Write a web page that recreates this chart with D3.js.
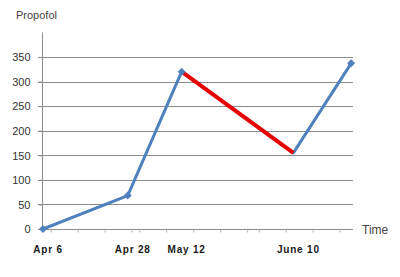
<!DOCTYPE html>
<html><head><meta charset="utf-8">
<script src="https://cdn.jsdelivr.net/npm/d3@7"></script>
<style>body{margin:0;background:#fff}svg{display:block}</style>
</head><body>
<svg id="c" width="400" height="277"></svg>
<script>
const dates = ["2009-04-06","2009-04-28","2009-05-12","2009-06-10","2009-06-25"];
const values = [0, 68, 320, 155, 337];
const highlight = [2, 3]; // segment drawn in red (index range)
const labelDates = ["2009-04-06","2009-04-28","2009-05-12","2009-06-10"];
const labelTexts = ["Apr 6","Apr 28","May 12","June 10"];
const yTicks = [0,50,100,150,200,250,300,350];
const yTitle = "Propofol";
const xTitle = "Time";

const parse = d3.utcParse("%Y-%m-%d");
const pts = dates.map((d,i)=>({x:parse(d), y:values[i]}));

const svg = d3.select("#c");
const x = d3.scaleUtc().domain([parse("2009-04-06"), parse("2009-06-26")]).range([43, 355]);
const y = d3.scaleLinear().domain([0, 400]).range([229, 32.4]);

// gridlines
svg.append("g").selectAll("line").data(yTicks.filter(t=>t>0)).join("line")
  .attr("x1", 38).attr("x2", 353)
  .attr("y1", d=>Math.round(y(d))+0.5).attr("y2", d=>Math.round(y(d))+0.5)
  .attr("stroke", "#8c8c8c").attr("stroke-width", 1);

// y axis
const yAxis = d3.axisLeft(y).tickValues(yTicks).tickSize(4).tickPadding(8);
const gy = svg.append("g").attr("transform","translate(42.5,0)").call(yAxis);
gy.select(".domain").attr("stroke","#8c8c8c").attr("d","M0,32.4V229");
gy.selectAll(".tick line").attr("stroke","#8c8c8c");
gy.selectAll(".tick text").attr("font-family","Liberation Sans, Arial, sans-serif")
  .attr("font-size","11px").attr("fill","#333").attr("dy","0.35em");

// x axis
const weekTicks = d3.utcDay.every(7).range(parse("2009-04-06"), parse("2009-06-26"));
const xAxis = d3.axisBottom(x).tickValues(weekTicks).tickSize(3).tickFormat("");
const gx = svg.append("g").attr("transform","translate(0,229.5)").call(xAxis);
gx.select(".domain").attr("stroke","#8c8c8c").attr("d","M38,0H353");
gx.selectAll(".tick line").attr("stroke","#b0b0b0").attr("y1",-1);

// x labels
svg.append("g").selectAll("text").data(labelDates).join("text")
  .attr("x", d=>x(parse(d))+5).attr("y", 253)
  .attr("text-anchor","middle")
  .attr("font-family","Liberation Sans, Arial, sans-serif").attr("font-weight","bold")
  .attr("font-size","10px").attr("letter-spacing","0.8px").attr("fill","#1a1a1a")
  .text((d,i)=>labelTexts[i]);

// titles
svg.append("text").attr("x",16).attr("y",19).attr("font-family","Liberation Sans, Arial, sans-serif")
  .attr("font-size","11px").attr("fill","#444").text(yTitle);
svg.append("text").attr("x",362).attr("y",234).attr("font-family","Liberation Sans, Arial, sans-serif")
  .attr("font-size","12px").attr("fill","#444").text(xTitle);

// line
const line = d3.line().x(d=>x(d.x)).y(d=>y(d.y));
svg.append("path").datum(pts).attr("d", line).attr("fill","none")
  .attr("stroke","#4f81bd").attr("stroke-width",3).attr("stroke-linejoin","round");
svg.append("path").datum(pts.slice(highlight[0], highlight[1]+1)).attr("d", line).attr("fill","none")
  .attr("stroke","#e60000").attr("stroke-width",4);

// markers (square rotated 45 degrees)
const sym = d3.symbol().type(d3.symbolSquare).size(32);
svg.append("g").selectAll("path").data(pts).join("path")
  .attr("d", sym)
  .attr("transform", d=>`translate(${x(d.x)},${y(d.y)}) rotate(45)`)
  .attr("fill", (d,i)=> i===highlight[1] ? "none" : "#4f81bd");
</script>
</body></html>
